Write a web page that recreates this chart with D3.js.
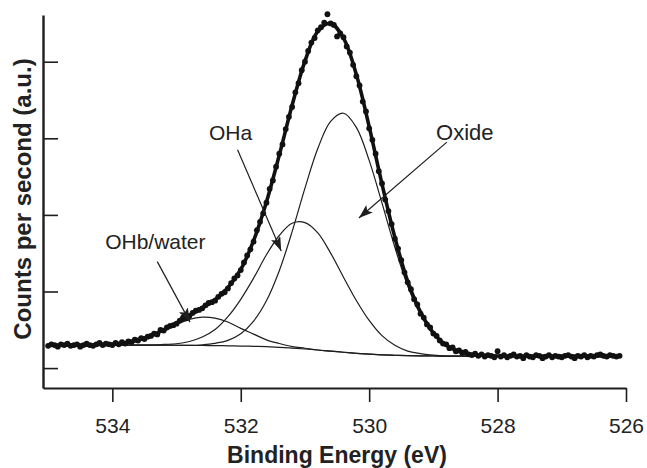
<!DOCTYPE html>
<html><head><meta charset="utf-8">
<script src="https://cdn.jsdelivr.net/npm/d3@7/dist/d3.min.js"></script>
<style>
body{margin:0;background:#fff}
svg{display:block}
text{font-family:"Liberation Sans",Arial,Helvetica,sans-serif;fill:#222}
</style>
</head><body>
<svg id="chart" width="647" height="468"></svg>
<script>
// ---------- data ----------
const xTicks = [534, 532, 530, 528, 526];
const yTicks = [0, 1, 2, 3, 4];

// fit grid (binding energy, eV)
const fitEnergy = [535.0,534.8,534.6,534.4,534.2,534.0,533.8,533.6,533.4,533.2,533.0,532.8,532.6,532.4,532.2,532.0,531.8,531.6,531.4,531.2,531.0,530.8,530.6,530.4,530.2,530.0,529.8,529.6,529.4,529.2,529.0,528.8,528.6,528.4,528.2,528.0,527.8,527.6,527.4,527.2,527.0,526.8,526.6,526.4,526.2];
// Shirley-type background
const background = [0.300,0.300,0.300,0.300,0.300,0.300,0.300,0.300,0.299,0.299,0.298,0.297,0.295,0.293,0.291,0.288,0.284,0.279,0.271,0.261,0.249,0.236,0.221,0.207,0.193,0.182,0.173,0.167,0.162,0.160,0.158,0.157,0.157,0.157,0.157,0.157,0.157,0.157,0.157,0.157,0.157,0.157,0.157,0.157,0.157];
// fitted components (above background)
const oxide = [0,0,0,0,0,0,0,0,0,0,0,0,0.01,0.03,0.07,0.16,0.33,0.60,1.00,1.52,2.10,2.63,3.00,3.12,2.95,2.53,1.98,1.41,0.91,0.54,0.29,0.14,0.06,0.02,0.01,0,0,0,0,0,0,0,0,0,0];
const ohA   = [0,0,0,0,0,0,0,0,0,0.01,0.02,0.05,0.11,0.21,0.38,0.61,0.89,1.20,1.46,1.63,1.65,1.53,1.28,0.98,0.69,0.44,0.25,0.13,0.06,0.03,0.01,0,0,0,0,0,0,0,0,0,0,0,0,0,0];
const ohB   = [0,0,0,0,0.01,0.01,0.03,0.07,0.12,0.19,0.27,0.34,0.37,0.36,0.31,0.23,0.16,0.09,0.05,0.02,0.01,0,0,0,0,0,0,0,0,0,0,0,0,0,0,0,0,0,0,0,0,0,0,0,0];

// measured points: start energy, step, counts (a.u.)
const dataStart = 535.0, dataStep = 0.05;
const counts = [
0.29,0.31,0.30,0.28,0.31,0.30,0.32,0.29,0.30,0.31,
0.28,0.30,0.32,0.30,0.29,0.31,0.33,0.30,0.32,0.31,
0.30,0.33,0.31,0.34,0.32,0.35,0.34,0.37,0.36,0.39,
0.38,0.41,0.42,0.45,0.44,0.50,0.49,0.53,0.55,0.56,
0.58,0.62,0.66,0.65,0.68,0.72,0.75,0.76,0.78,0.82,
0.85,0.86,0.88,0.93,0.97,0.99,1.04,1.11,1.17,1.21,
1.28,1.38,1.47,1.55,1.65,1.80,1.91,2.02,2.16,2.34,
2.45,2.63,2.80,2.92,3.12,3.28,3.41,3.60,3.72,3.89,
4.00,4.14,4.25,4.31,4.41,4.45,4.51,4.62,4.50,4.48,
4.33,4.37,4.32,4.20,4.12,3.96,3.81,3.69,3.48,3.35,
3.13,2.98,2.80,2.57,2.41,2.20,2.05,1.88,1.69,1.56,
1.41,1.25,1.12,1.03,0.90,0.83,0.71,0.66,0.57,0.53,
0.45,0.42,0.36,0.32,0.31,0.26,0.27,0.22,0.23,0.20,
0.21,0.18,0.17,0.19,0.16,0.18,0.15,0.17,0.16,0.14,
0.22,0.15,0.17,0.14,0.16,0.18,0.15,0.16,0.13,0.17,
0.15,0.14,0.17,0.16,0.13,0.15,0.17,0.14,0.16,0.15,
0.14,0.16,0.17,0.15,0.13,0.16,0.15,0.17,0.14,0.16,
0.15,0.17,0.18,0.16,0.15,0.17,0.16,0.15,0.16];

const labelTexts = ["OHb/water", "OHa", "Oxide"];

// ---------- drawing ----------
const svg = d3.select("#chart");
const ink = "#1e1e1e";
const x = d3.scaleLinear().domain([535.08, 526]).range([43, 626]);
const y = d3.scaleLinear().domain([-0.26, 4.61]).range([388, 15]);

const line = d3.line().x(d => x(d[0])).y(d => y(d[1])).curve(d3.curveCatmullRom.alpha(0.5));
const sumAt = (arrs, i) => arrs.reduce((s, a) => s + a[i], 0);
const series = arrs => fitEnergy.map((e, i) => [e, sumAt(arrs, i)]);

const g = svg.append("g");
// thin component curves
[[background], [background, ohB], [background, ohA], [background, oxide]].forEach(arrs => {
  g.append("path").attr("d", line(series(arrs)))
    .attr("fill", "none").attr("stroke", ink).attr("stroke-width", 1.2);
});
// envelope
g.append("path").attr("d", line(series([background, oxide, ohA, ohB])))
  .attr("fill", "none").attr("stroke", "#111").attr("stroke-width", 3.6);
// data points
g.selectAll("circle").data(counts).join("circle")
  .attr("cx", (d, i) => x(dataStart - i * dataStep))
  .attr("cy", d => y(d)).attr("r", 2.9).attr("fill", "#111");

// arrows
const defs = svg.append("defs");
defs.append("marker").attr("id", "ah").attr("viewBox", "0 0 14 10")
  .attr("refX", 14).attr("refY", 5).attr("markerWidth", 14).attr("markerHeight", 10)
  .attr("markerUnits", "userSpaceOnUse").attr("orient", "auto")
  .append("path").attr("d", "M0,0 L14,5 L0,10 L3,5 Z").attr("fill", ink);

const arrows = [
  {from: [533.30, 1.39], to: [532.79, 0.60]},
  {from: [532.05, 2.85], to: [531.37, 1.53]},
  {from: [528.79, 2.95], to: [530.16, 1.96]}
];
arrows.forEach(a => {
  svg.append("line")
    .attr("x1", x(a.from[0])).attr("y1", y(a.from[1]))
    .attr("x2", x(a.to[0])).attr("y2", y(a.to[1]))
    .attr("stroke", ink).attr("stroke-width", 1.2).attr("marker-end", "url(#ah)");
});
const labelPos = [[533.33, 1.56], [532.16, 2.98], [528.51, 2.98]];
labelTexts.forEach((t, i) => {
  svg.append("text").attr("x", x(labelPos[i][0])).attr("y", y(labelPos[i][1]))
    .attr("text-anchor", "middle").attr("font-size", i === 2 ? 22 : 21).text(t);
});

// axes
const xAxis = d3.axisBottom(x).tickValues(xTicks).tickSize(14).tickSizeOuter(0).tickPadding(16).tickFormat(d3.format("d"));
const gx = svg.append("g").attr("transform", "translate(0,388)").call(xAxis);
gx.select(".domain").attr("stroke", ink).attr("stroke-width", 2);
gx.selectAll(".tick line").attr("stroke", ink).attr("stroke-width", 1.6);
gx.selectAll(".tick text").attr("font-size", 21).attr("fill", ink)
  .style("font-family", '"Liberation Sans",Arial,sans-serif');

const yAxis = d3.axisLeft(y).tickValues(yTicks).tickSize(-15).tickSizeOuter(0).tickFormat("");
const gy = svg.append("g").attr("transform", "translate(43,0)").call(yAxis);
gy.select(".domain").attr("stroke", ink).attr("stroke-width", 2.4);
gy.selectAll(".tick line").attr("stroke", ink).attr("stroke-width", 1.6);

svg.append("text").attr("x", 337).attr("y", 463).attr("text-anchor", "middle")
  .attr("font-size", 23).attr("font-weight", "bold").text("Binding Energy (eV)");
svg.append("text").attr("transform", "translate(31,199) rotate(-90)").attr("text-anchor", "middle")
  .attr("font-size", 24).attr("font-weight", "bold").text("Counts per second (a.u.)");
</script>
</body></html>
